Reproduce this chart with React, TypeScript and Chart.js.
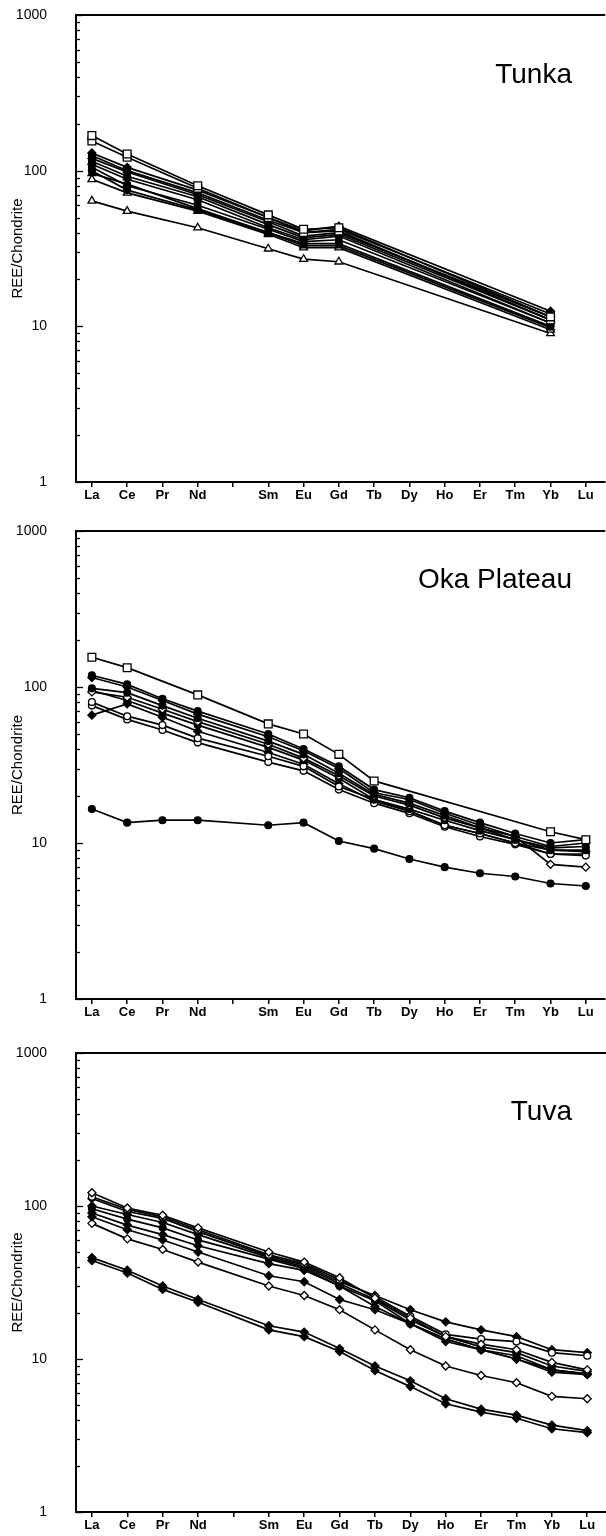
import { useEffect, useRef } from 'react';
import { Chart, registerables } from 'chart.js';

Chart.register(...registerables);

const N = null;

// Element order along the x axis (Pm has a tick but no label).
const elements = ['La', 'Ce', 'Pr', 'Nd', '', 'Sm', 'Eu', 'Gd', 'Tb', 'Dy', 'Ho', 'Er', 'Tm', 'Yb', 'Lu'];
const decadeLabels = [1, 10, 100, 1000];
const yTickValues = [
  1, 2, 3, 4, 5, 6, 7, 8, 9,
  10, 20, 30, 40, 50, 60, 70, 80, 90,
  100, 200, 300, 400, 500, 600, 700, 800, 900,
  1000,
];

// Tunka
const tunka1 = [168, 128, N, 80, N, 52, 42, 43, N, N, N, N, N, 11.5, N];
const tunka2 = [155, 122, N, 77, N, 50, 40, 41, N, N, N, N, N, 11, N];
const tunka3 = [130, 105, N, 75, N, 50, 41, 44, N, N, N, N, N, 12.5, N];
const tunka4 = [125, 100, N, 72, N, 48, 40, 42, N, N, N, N, N, 12, N];
const tunka5 = [120, 98, N, 70, N, 47, 38, 40, N, N, N, N, N, 11.5, N];
const tunka6 = [115, 92, N, 68, N, 45, 37, 39, N, N, N, N, N, 11, N];
const tunka7 = [110, 88, N, 65, N, 43, 36, 38, N, N, N, N, N, 10.5, N];
const tunka8 = [105, 80, N, 60, N, 42, 35, 36, N, N, N, N, N, 10.5, N];
const tunka9 = [100, 75, N, 56, N, 40, 34, 34, N, N, N, N, N, 10, N];
const tunka10 = [96, 82, N, 57, N, 40, 33, 33, N, N, N, N, N, 9.8, N];
const tunka11 = [88, 72, N, 55, N, 39, 32, 32, N, N, N, N, N, 9.5, N];
const tunka12 = [64, 55, N, 43, N, 31.5, 27, 26, N, N, N, N, N, 9, N];

// Oka Plateau
const oka1 = [155, 133, N, 89, N, 58, 50, 37, 25, N, N, N, N, 11.8, 10.5];
const oka2 = [119, 104, 84, 70, N, 50, 40, 31, 22, 19.5, 16, 13.5, 11.5, 10, 10.5];
const oka3 = [115, 100, 82, 67, N, 48, 39, 30, 21, 19, 15.5, 13, 11, 9.5, 10];
const oka4 = [98, 92, 76, 63, N, 45, 37, 28, 20.5, 18, 15, 12.5, 10.5, 9.3, 9.5];
const oka5 = [93, 86, 72, 60, N, 43, 35, 27, 20, 17.5, 14.5, 12.5, 11, 7.3, 7.0];
const oka6 = [95, 82, 68, 57, N, 41, 34, 26, 19, 16.5, 14, 12, 10.5, 9, 9];
const oka7 = [80, 65, 57, 47, N, 36, 31, 23, 19, 16, 13, 11.5, 10, 8.5, 8.3];
const oka8 = [76, 62, 53, 44, N, 33, 29, 22, 18, 15.5, 12.7, 11, 9.8, 8.5, 8.5];
const oka9 = [66, 78, 64, 52, N, 38, 32, 24, 18.5, 16, 13, 11.5, 10, 9, 8.8];
const oka10 = [16.5, 13.5, 14, 14, N, 13, 13.5, 10.3, 9.2, 7.9, 7.0, 6.4, 6.1, 5.5, 5.3];

// Tuva
const tuva1 = [122, 97, 87, 72, N, 50, 43, 34, 25, 18.5, 14, 12.5, 11.5, 9.5, 8.5];
const tuva2 = [115, 95, 85, 70, N, 48, 42, 33, 25.5, 19, 14.5, 13.5, 13, 11, 10.5];
const tuva3 = [112, 92, 83, 68, N, 47, 41, 32, 26, 21, 17.5, 15.5, 14, 11.5, 11];
const tuva4 = [100, 88, 78, 65, N, 46, 40, 31, 24.5, 18, 14, 12, 11, 9, 8.3];
const tuva5 = [96, 82, 72, 60, N, 45, 39, 30, 24, 17, 13.5, 11.5, 10.5, 8.5, 8];
const tuva6 = [90, 75, 65, 55, N, 42, 38, 30, 22, 17, 13.5, 11.5, 10, 8.5, 8];
const tuva7 = [85, 70, 60, 50, N, 35, 32, 24.5, 21, 17, 13, 11.5, 10, 8.2, 7.9];
const tuva8 = [77, 61, 52, 43, N, 30, 26, 21, 15.5, 11.5, 9, 7.8, 7, 5.7, 5.5];
const tuva9 = [46, 38, 30, 24.5, N, 16.5, 15, 11.7, 9, 7.2, 5.5, 4.7, 4.3, 3.7, 3.4];
const tuva10 = [44, 36.5, 28.5, 23.5, N, 15.5, 14, 11.2, 8.4, 6.6, 5.1, 4.5, 4.1, 3.5, 3.3];

type Marker = 'sqOpen' | 'sqFill' | 'ciFill' | 'ciOpen' | 'diFill' | 'diOpen' | 'trOpen' | 'trFill';
type Series = { marker: Marker; values: (number | null)[] };

const tunkaSeries: Series[] = [
  { marker: 'sqOpen', values: tunka1 },
  { marker: 'sqOpen', values: tunka2 },
  { marker: 'diFill', values: tunka3 },
  { marker: 'ciFill', values: tunka4 },
  { marker: 'diFill', values: tunka5 },
  { marker: 'ciFill', values: tunka6 },
  { marker: 'diFill', values: tunka7 },
  { marker: 'sqFill', values: tunka8 },
  { marker: 'ciFill', values: tunka9 },
  { marker: 'trFill', values: tunka10 },
  { marker: 'trOpen', values: tunka11 },
  { marker: 'trOpen', values: tunka12 },
];

const okaSeries: Series[] = [
  { marker: 'sqOpen', values: oka1 },
  { marker: 'ciFill', values: oka2 },
  { marker: 'diFill', values: oka3 },
  { marker: 'ciFill', values: oka4 },
  { marker: 'diOpen', values: oka5 },
  { marker: 'ciFill', values: oka6 },
  { marker: 'ciOpen', values: oka7 },
  { marker: 'ciOpen', values: oka8 },
  { marker: 'diFill', values: oka9 },
  { marker: 'ciFill', values: oka10 },
];

const tuvaSeries: Series[] = [
  { marker: 'diOpen', values: tuva1 },
  { marker: 'ciOpen', values: tuva2 },
  { marker: 'diFill', values: tuva3 },
  { marker: 'diFill', values: tuva4 },
  { marker: 'ciFill', values: tuva5 },
  { marker: 'diFill', values: tuva6 },
  { marker: 'diFill', values: tuva7 },
  { marker: 'diOpen', values: tuva8 },
  { marker: 'diFill', values: tuva9 },
  { marker: 'diFill', values: tuva10 },
];

const markerLook: Record<Marker, { style: string; radius: number; filled: boolean }> = {
  sqOpen: { style: 'rect', radius: 5.5, filled: false },
  sqFill: { style: 'rect', radius: 4.5, filled: true },
  ciFill: { style: 'circle', radius: 3.4, filled: true },
  ciOpen: { style: 'circle', radius: 3.4, filled: false },
  diFill: { style: 'rectRot', radius: 4, filled: true },
  diOpen: { style: 'rectRot', radius: 4, filled: false },
  trOpen: { style: 'triangle', radius: 4.5, filled: false },
  trFill: { style: 'triangle', radius: 4.5, filled: true },
};

const FONT = '"Liberation Sans", Arial, Helvetica, sans-serif';
const CANVAS_W = 612;
const CANVAS_H = 510;

// Draws the top frame line, the inward y tick marks and the panel name.
const framePlugin = {
  id: 'frame',
  afterDraw(chart: any, _args: any, opts: any) {
    const { ctx, chartArea, scales } = chart;
    const { left, right, top } = chartArea;
    const y = scales.y;
    ctx.save();
    ctx.strokeStyle = '#000';
    ctx.lineWidth = 2;
    ctx.beginPath();
    ctx.moveTo(left - 1, top);
    ctx.lineTo(right, top);
    ctx.stroke();
    ctx.lineWidth = 1.3;
    for (const v of yTickValues) {
      const py = Math.round(y.getPixelForValue(v)) + 0.5;
      const len = decadeLabels.includes(v) ? 7 : 4;
      ctx.beginPath();
      ctx.moveTo(left, py);
      ctx.lineTo(left + len, py);
      ctx.stroke();
    }
    ctx.fillStyle = '#000';
    ctx.font = `28px ${FONT}`;
    ctx.textAlign = 'right';
    ctx.textBaseline = 'middle';
    ctx.fillText(opts.text, opts.x, top + opts.dy);
    ctx.restore();
  },
};

type PanelProps = {
  top: number;
  padTop: number;
  plotHeight: number;
  title: string;
  titleDy: number;
  series: Series[];
};

function Panel({ top, padTop, plotHeight, title, titleDy, series }: PanelProps) {
  const ref = useRef<HTMLCanvasElement>(null);

  useEffect(() => {
    const datasets = series.map((s) => {
      const look = markerLook[s.marker];
      return {
        data: s.values.map((v, i) => ({ x: i, y: v })),
        borderColor: '#000',
        borderWidth: 1.7,
        pointStyle: look.style,
        pointRadius: look.radius,
        pointBorderWidth: 1.3,
        pointBorderColor: '#000',
        pointBackgroundColor: look.filled ? '#000' : '#fff',
        spanGaps: true,
        fill: false,
        tension: 0,
      };
    });

    const chart = new Chart(ref.current as HTMLCanvasElement, {
      type: 'line',
      data: { datasets } as any,
      plugins: [framePlugin as any],
      options: {
        responsive: false,
        animation: false,
        devicePixelRatio: 1,
        parsing: false,
        normalized: true,
        layout: { padding: { top: padTop, right: 1, left: 0, bottom: 0 } },
        plugins: {
          legend: { display: false },
          tooltip: { enabled: false },
          frame: { text: title, dy: titleDy, x: 572 },
        } as any,
        scales: {
          x: {
            type: 'linear',
            min: -0.45,
            max: 14.55,
            afterBuildTicks: (s: any) => {
              s.ticks = elements.map((_, i) => ({ value: i }));
            },
            afterFit: (s: any) => {
              s.height = CANVAS_H - padTop - plotHeight;
            },
            ticks: {
              autoSkip: false,
              maxRotation: 0,
              padding: 1,
              color: '#000',
              font: { family: FONT, size: 13, weight: 'bold' },
              callback: (v: any) => elements[Number(v)] ?? '',
            },
            grid: {
              display: true,
              drawOnChartArea: false,
              drawTicks: true,
              tickLength: 5,
              color: '#000',
              lineWidth: 1.5,
            },
            border: { display: true, color: '#000', width: 2 },
          },
          y: {
            type: 'logarithmic',
            min: 1,
            max: 1000,
            afterBuildTicks: (s: any) => {
              s.ticks = yTickValues.map((v) => ({ value: v }));
            },
            afterFit: (s: any) => {
              s.width = 76;
            },
            ticks: {
              autoSkip: false,
              padding: 0,
              color: '#000',
              font: { family: FONT, size: 14 },
              callback: (v: any) => (decadeLabels.includes(Number(v)) ? String(v) : ''),
            },
            // hidden grid; its tick length only sets the gap between labels and axis
            grid: { display: false, drawTicks: true, tickLength: 29 },
            border: { display: true, color: '#000', width: 2 },
            title: {
              display: true,
              text: 'REE/Chondrite',
              color: '#000',
              font: { family: FONT, size: 15 },
              padding: { top: 9, bottom: 0 },
            },
          },
        },
      } as any,
    });

    return () => chart.destroy();
  }, [padTop, plotHeight, title, titleDy, series]);

  return (
    <div style={{ position: 'absolute', left: 0, top, width: CANVAS_W, height: CANVAS_H }}>
      <canvas
        ref={ref}
        width={CANVAS_W}
        height={CANVAS_H}
        style={{ display: 'block', width: CANVAS_W, height: CANVAS_H }}
      />
    </div>
  );
}

export default function App() {
  return (
    <div
      style={{
        position: 'absolute',
        left: 0,
        top: 0,
        width: 606,
        height: 1536,
        overflow: 'hidden',
        background: '#fff',
      }}
    >
      <Panel top={0} padTop={15} plotHeight={467} title="Tunka" titleDy={60} series={tunkaSeries} />
      <Panel top={516} padTop={15} plotHeight={468} title="Oka Plateau" titleDy={49} series={okaSeries} />
      <Panel top={1026} padTop={27} plotHeight={459} title="Tuva" titleDy={59} series={tuvaSeries} />
    </div>
  );
}
